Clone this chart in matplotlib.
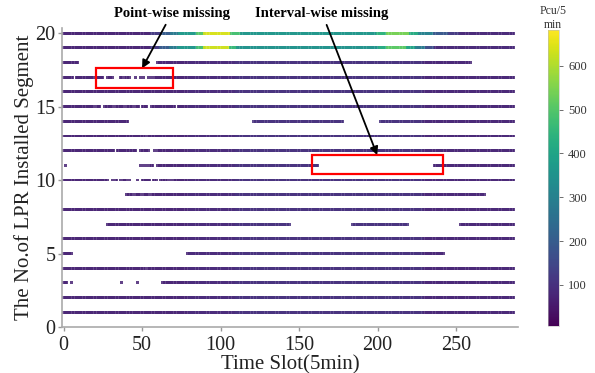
import matplotlib
matplotlib.use("Agg")
import matplotlib.pyplot as plt
from matplotlib.colors import Normalize
from matplotlib.patches import Rectangle

# ---------------- data ----------------
n_slots = 288
segments = list(range(1, 21))

# observed runs of time slots per segment (inclusive ranges)
present_runs = {
    1: [(0, 287)],
    2: [(0, 287)],
    3: [(0, 2), (5, 5), (37, 37), (47, 47), (63, 287)],
    4: [(0, 287)],
    5: [(0, 5), (79, 242)],
    6: [(0, 287)],
    7: [(28, 144), (184, 219), (253, 287)],
    8: [(0, 287)],
    9: [(40, 268)],
    10: [(0, 287)],
    11: [(1, 1), (49, 49), (51, 51), (53, 53), (55, 57), (60, 162), (236, 287)],
    12: [(0, 287)],
    13: [(0, 287)],
    14: [(0, 41), (121, 178), (202, 287)],
    15: [(0, 287)],
    16: [(0, 287)],
    17: [(0, 287)],
    18: [(0, 9), (60, 259)],
    19: [(0, 287)],
    20: [(0, 287)],
}

# single missing slots (point-wise missing)
missing_points = {
    4: [53],
    9: [45, 50, 55],
    10: [29, 30, 32, 35, 37, 41, 43, 44, 45, 46, 48, 49, 56, 60, 61, 67, 69],
    12: [33, 47, 48, 55, 56, 57, 59],
    13: [53],
    15: [20, 24, 25, 32, 39, 45, 49, 54, 55, 72],
    17: [7, 20, 26, 27, 32, 33, 34, 35, 38, 43, 44, 45, 47, 48, 50, 52, 53,
         55, 57],
}

# flow levels (Pcu/5min) by runs of slots
base_levels = [(0, 79, 70), (80, 109, 85), (110, 229, 100), (230, 287, 75)]
row20_levels = [(0, 55, 70), (56, 62, 120), (63, 68, 200), (69, 73, 280),
                (74, 84, 370), (85, 89, 500), (90, 106, 640), (107, 112, 480),
                (113, 199, 360), (200, 205, 440), (206, 220, 540),
                (221, 226, 420), (227, 235, 300), (236, 245, 190),
                (246, 252, 120), (253, 287, 80)]
row19_levels = [(0, 55, 70), (56, 61, 120), (62, 67, 200), (68, 72, 280),
                (73, 84, 360), (85, 89, 480), (90, 105, 630), (106, 110, 460),
                (111, 200, 350), (201, 205, 420), (206, 218, 510),
                (219, 224, 400), (225, 230, 280), (231, 236, 160),
                (237, 287, 80)]
special_levels = {19: row19_levels, 20: row20_levels}

vmin, vmax = 6, 682
cbar_ticks = [100, 200, 300, 400, 500, 600]
x_ticks = [0, 50, 100, 150, 200, 250]
y_ticks = [0, 5, 10, 15, 20]

# ---------------- build points ----------------
xs, ys, vs = [], [], []
for seg in segments:
    levels = special_levels.get(seg, base_levels)
    level_of = {}
    for a, b, v in levels:
        for t in range(a, b + 1):
            level_of[t] = v
    miss = set(missing_points.get(seg, []))
    for a, b in present_runs[seg]:
        for t in range(a, b + 1):
            if t in miss:
                continue
            xs.append(t)
            ys.append(seg)
            vs.append(level_of[t])

# ---------------- figure ----------------
plt.rcParams['font.family'] = ['Liberation Serif', 'DejaVu Serif']
W, H = 595, 373
fig = plt.figure(figsize=(W / 100, H / 100), dpi=100)
ax = fig.add_axes([62 / W, 1 - 327 / H, (518 - 62) / W, (327 - 28) / H])

norm = Normalize(vmin=vmin, vmax=vmax)
sc = ax.scatter(xs, ys, c=vs, cmap='viridis', norm=norm, marker='s',
                s=4.2, linewidths=0, alpha=0.85)

ax.set_xlim(-1, 289.5)
ax.set_ylim(0, 20.35)
ax.set_xticks(x_ticks)
ax.set_yticks(y_ticks)
ax.tick_params(labelsize=14.5, colors='#999999', labelcolor='#222222',
               length=3, width=1)
ax.tick_params(axis='y', pad=1.5)
for side in ['top', 'right']:
    ax.spines[side].set_visible(False)
for side in ['left', 'bottom']:
    ax.spines[side].set_color('#aaaaaa')
    ax.spines[side].set_linewidth(1.2)

ax.set_xlabel('Time Slot(5min)', fontsize=15, labelpad=0, color='#222222')
ax.set_ylabel('The No.of LPR Installed Segment', fontsize=15, labelpad=1,
              color='#222222')

# colorbar
cax = fig.add_axes([548 / W, 1 - 326 / H, 11 / W, (326 - 30) / H])
sm = plt.cm.ScalarMappable(norm=norm, cmap='viridis')
cb = fig.colorbar(sm, cax=cax, ticks=cbar_ticks)
cb.outline.set_linewidth(0.4)
cb.outline.set_edgecolor('#bbbbbb')
cax.tick_params(labelsize=9, length=3, width=0.6, colors='#555555',
                labelcolor='#333333')
fig.text(553 / W, 1 - 18 / H, 'Pcu/5\nmin', ha='center', va='center',
         fontsize=8.5, color='#333333', linespacing=1.3)

# annotation boxes
ax.add_patch(Rectangle((20.7, 16.3), 49.1, 1.3, fill=False, edgecolor='red',
                       linewidth=1.6, zorder=5, clip_on=False))
ax.add_patch(Rectangle((158.4, 10.4), 83.5, 1.3, fill=False, edgecolor='red',
                       linewidth=1.6, zorder=5, clip_on=False))

arrow = dict(arrowstyle='-|>', color='black', lw=1.3, mutation_scale=12,
             shrinkA=2, shrinkB=0)
ax.annotate('Point-wise missing', xy=(50, 17.6), xycoords='data',
            xytext=(172 / W, 1 - 13 / H), textcoords='figure fraction',
            ha='center', va='center', fontsize=10.5, fontweight='bold',
            arrowprops=arrow, annotation_clip=False)
ax.annotate('Interval-wise missing', xy=(199.8, 11.7), xycoords='data',
            xytext=(322 / W, 1 - 13 / H), textcoords='figure fraction',
            ha='center', va='center', fontsize=10.5, fontweight='bold',
            arrowprops=arrow, annotation_clip=False)

fig.savefig('out.png', dpi=100)
